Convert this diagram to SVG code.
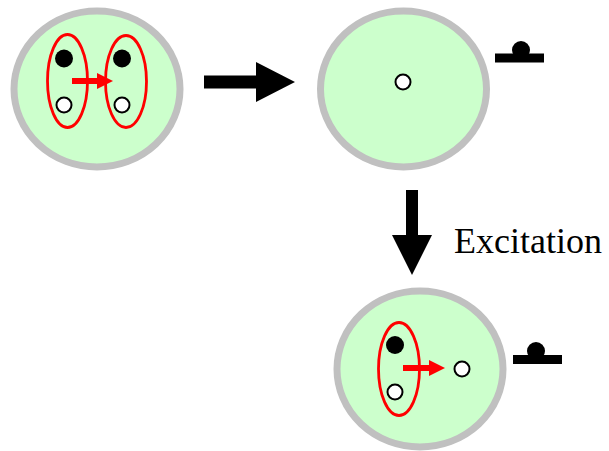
<svg xmlns="http://www.w3.org/2000/svg" width="609" height="451" viewBox="0 0 609 451">
  <style>
    .cell { fill: #ccffcc; stroke: #c0c0c0; stroke-width: 7; }
    .pair { fill: none; stroke: #ff0000; stroke-width: 2.8; }
    .dark { fill: #000; }
    .light { fill: #fff; stroke: #000; stroke-width: 2; }
    .redarrow { fill: #ff0000; }
    .bigarrow { fill: #000; }
    .label { font-family: "Liberation Serif", "Times New Roman", serif; font-size: 36px; fill: #000; }
  </style>

  <!-- ground state: two paired orbitals -->
  <g id="state-ground">
    <ellipse class="cell" cx="97" cy="89" rx="83" ry="78"/>
    <ellipse class="pair" cx="67.5" cy="81" rx="20" ry="46.5"/>
    <ellipse class="pair" cx="126" cy="81.5" rx="20.5" ry="46"/>
    <circle class="dark" cx="64" cy="58.5" r="9"/>
    <circle class="light" cx="64" cy="105" r="7.5"/>
    <circle class="dark" cx="122" cy="58.5" r="9"/>
    <circle class="light" cx="122" cy="105" r="7.5"/>
    <path class="redarrow" d="M72 78 H97 V73 L113 81 L97 89 V84 H72 Z"/>
  </g>

  <!-- ionized state -->
  <g id="state-ionized">
    <ellipse class="cell" cx="403.5" cy="89" rx="83" ry="78"/>
    <circle class="light" cx="403" cy="82" r="7.5"/>
  </g>
  <g id="ion-marker-top">
    <circle class="dark" cx="521" cy="50" r="9"/>
    <rect class="dark" x="495" y="53.5" width="49" height="9"/>
  </g>

  <!-- excited state -->
  <g id="state-excited">
    <ellipse class="cell" cx="420" cy="369" rx="83" ry="78"/>
    <ellipse class="pair" cx="399" cy="369" rx="20.5" ry="46.5"/>
    <circle class="dark" cx="395" cy="345" r="9"/>
    <circle class="light" cx="395" cy="392" r="7.5"/>
    <circle class="light" cx="462" cy="369" r="7.5"/>
    <path class="redarrow" d="M403 365 H429 V360 L445 368 L429 376 V371 H403 Z"/>
  </g>
  <g id="ion-marker-bottom">
    <circle class="dark" cx="536" cy="351" r="9"/>
    <rect class="dark" x="513" y="355" width="49" height="9"/>
  </g>

  <!-- transitions -->
  <g id="connectors">
    <path class="bigarrow" d="M204 75.5 H256 V62 L295 82 L256 102 V88.5 H204 Z"/>
    <path class="bigarrow" d="M406 190 H418 V235 H432 L412 275 L392 235 H406 Z"/>
    <text class="label" x="454" y="253">Excitation</text>
  </g>
</svg>
